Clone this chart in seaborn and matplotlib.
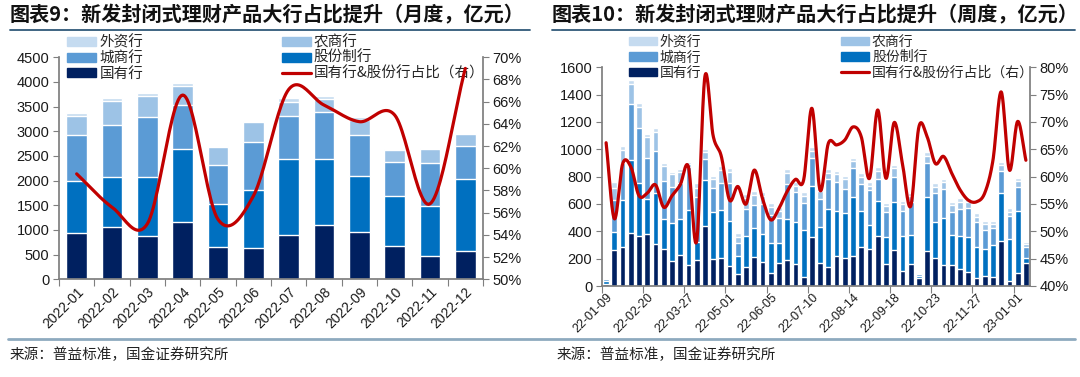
import numpy as np
import matplotlib
matplotlib.use("Agg")
import matplotlib.pyplot as plt
import seaborn as sns
from matplotlib.patches import Patch
from matplotlib.lines import Line2D

# ---- monthly data (亿元) ----
months = ["2022-01", "2022-02", "2022-03", "2022-04", "2022-05", "2022-06",
          "2022-07", "2022-08", "2022-09", "2022-10", "2022-11", "2022-12"]
m_state = [946, 1068, 872, 1156, 656, 642, 906, 1095, 960, 683, 473, 581]
m_joint = [1048, 1001, 1210, 1487, 865, 1170, 1541, 1352, 1136, 1014, 1021, 1447]
m_city = [933, 1068, 1203, 899, 798, 980, 859, 940, 831, 676, 865, 669]
m_rural = [385, 480, 440, 386, 372, 392, 297, 263, 304, 250, 284, 257]
m_foreign = [54, 54, 61, 60, 20, 20, 68, 61, 54, 20, 14, 14]
m_share = [59.5, 56.5, 55.0, 66.6, 55.4, 57.5, 67.1, 65.7, 64.2, 64.8, 56.8, 69.0]

# ---- weekly data (亿元) ----
weeks = ["22-01-09", "22-01-16", "22-01-23", "22-02-06", "22-02-13",
         "22-02-20", "22-02-27", "22-03-06", "22-03-13", "22-03-20",
         "22-03-27", "22-04-03", "22-04-10", "22-04-17", "22-04-24",
         "22-05-01", "22-05-08", "22-05-15", "22-05-22", "22-05-29",
         "22-06-05", "22-06-12", "22-06-19", "22-06-26", "22-07-03",
         "22-07-10", "22-07-17", "22-07-24", "22-07-31", "22-08-07",
         "22-08-14", "22-08-21", "22-08-28", "22-09-04", "22-09-11",
         "22-09-18", "22-09-25", "22-10-02", "22-10-09", "22-10-16",
         "22-10-23", "22-10-30", "22-11-06", "22-11-13", "22-11-20",
         "22-11-27", "22-12-04", "22-12-11", "22-12-18", "22-12-25",
         "23-01-01", "23-01-08"]
w_state = [18, 263, 283, 385, 366, 380, 307, 268, 185, 227,
           154, 190, 439, 198, 202, 149, 90, 141, 214, 178,
           93, 166, 190, 161, 68, 356, 171, 141, 220, 202,
           220, 288, 271, 368, 159, 263, 110, 161, 56, 259,
           207, 154, 154, 124, 105, 56, 76, 68, 332, 37,
           93, 166]
w_joint = [20, 135, 346, 537, 390, 254, 371, 220, 278, 261,
           402, 134, 336, 341, 354, 327, 129, 227, 211, 202,
           224, 151, 298, 305, 342, 378, 263, 420, 329, 335,
           429, 261, 175, 254, 197, 354, 258, 212, 17, 395,
           264, 341, 219, 244, 251, 232, 195, 232, 351, 307,
           458, 36]
w_city = [12, 230, 273, 410, 402, 305, 312, 283, 264, 263,
          317, 330, 152, 180, 200, 280, 98, 193, 170, 220,
          203, 178, 258, 224, 195, 200, 200, 219, 214, 170,
          212, 195, 256, 161, 183, 183, 183, 244, 15, 244,
          207, 215, 171, 195, 212, 178, 139, 122, 161, 171,
          171, 86]
w_rural = [5, 90, 93, 146, 154, 149, 139, 107, 93, 86,
           20, 61, 53, 61, 92, 75, 44, 80, 70, 60,
           60, 55, 78, 43, 55, 55, 60, 49, 56, 73,
           53, 55, 32, 60, 46, 60, 48, 41, 7, 55,
           48, 48, 48, 53, 48, 41, 41, 29, 41, 28,
           46, 17]
w_foreign = [5, 40, 29, 29, 29, 24, 25, 24, 17, 17,
             12, 41, 20, 25, 30, 30, 24, 30, 30, 30,
             30, 30, 30, 30, 30, 26, 26, 25, 25, 25,
             25, 25, 25, 25, 25, 25, 25, 25, 5, 25,
             25, 25, 25, 25, 25, 25, 25, 25, 25, 25,
             25, 15]
w_share = [66.2, 52.3, 62.3, 61.8, 56.5, 57.0, 58.5, 54.4, 56.5, 58.5,
           61.8, 48.2, 78.3, 67.5, 63.7, 55.7, 58.2, 55.0, 61.2, 56.0,
           52.1, 54.2, 57.3, 59.5, 59.4, 72.5, 57.5, 66.1, 65.8, 66.7,
           69.1, 67.3, 59.7, 72.2, 59.7, 69.9, 62.4, 54.6, 69.1, 67.3,
           62.4, 63.7, 60.6, 57.6, 55.7, 55.4, 57.0, 63.0, 75.5, 61.2,
           70.1, 63.0]

names = ["外资行", "农商行", "城商行", "股份制行", "国有行"]
colors = ["#c5dbf0", "#9dc3e6", "#5b9bd5", "#0070c0", "#002060"]
line_color = "#c00000"
line_label = "国有行&股份行占比（右）"

sns.set_theme(style="ticks")
plt.rcParams["font.family"] = ["Liberation Sans", "Noto Sans CJK SC", "DejaVu Sans"]
plt.rcParams["axes.edgecolor"] = "#7f7f7f"
plt.rcParams["xtick.color"] = "#7f7f7f"
plt.rcParams["ytick.color"] = "#7f7f7f"
plt.rcParams["xtick.labelcolor"] = "#1a1a1a"
plt.rcParams["ytick.labelcolor"] = "#1a1a1a"


def smooth(ys, n=24):
    # catmull-rom curve through the points, like excel's smoothed line
    y = np.asarray(ys, float)
    x = np.arange(len(y), dtype=float)
    px = np.concatenate([[2 * x[0] - x[1]], x, [2 * x[-1] - x[-2]]])
    py = np.concatenate([[2 * y[0] - y[1]], y, [2 * y[-1] - y[-2]]])
    t = np.linspace(0, 1, n, endpoint=False)
    xs, ysm = [], []
    for i in range(1, len(px) - 2):
        for p, out in ((px, xs), (py, ysm)):
            p0, p1, p2, p3 = p[i - 1], p[i], p[i + 1], p[i + 2]
            out.extend(0.5 * (2 * p1 + (-p0 + p2) * t
                              + (2 * p0 - 5 * p1 + 4 * p2 - p3) * t ** 2
                              + (-p0 + 3 * p1 - 3 * p2 + p3) * t ** 3))
    xs.append(x[-1])
    ysm.append(y[-1])
    return np.array(xs), np.array(ysm)


def draw_panel(ax, cats, layers, share, width, ylim, yticks, rlim, rticks,
               tick_every, label_size, legend_anchor, colspace, legend_size):
    # stacked bars drawn as cumulative totals, biggest first
    cum = np.zeros(len(cats))
    tops = []
    for vals in reversed(layers):
        cum = cum + np.asarray(vals, float)
        tops.append(cum.copy())
    tops = tops[::-1]  # tops[0] = total (外资 top)
    for top, col in zip(tops, colors):
        sns.barplot(x=cats, y=top, color=col, saturation=1, width=width,
                    ax=ax, order=cats)
    ax.set_ylim(*ylim)
    ax.set_yticks(yticks)
    ax.set_yticklabels([str(v) for v in yticks], fontsize=10.5)
    ax.set_xlim(-0.5, len(cats) - 0.5)
    n = len(cats)
    ax.set_xticks(np.arange(-0.5, n - 0.4, tick_every))
    ax.set_xticklabels([])
    pos = np.arange(0, n, tick_every)
    ax.set_xticks(pos, [cats[i] for i in pos], minor=True, rotation=45,
                  ha="right", rotation_mode="anchor", fontsize=label_size)
    ax.tick_params(axis="x", which="minor", length=0, pad=4)
    ax.tick_params(axis="x", which="major", length=5, width=0.8)
    ax.tick_params(axis="y", length=4, width=0.8, pad=3)
    ax.set_xlabel("")
    ax.set_ylabel("")
    for s in ("top", "right"):
        ax.spines[s].set_visible(False)

    ax2 = ax.twinx()
    sx, sy = smooth(share)
    ax2.plot(sx, sy, color=line_color, lw=2.3, solid_capstyle="round")
    ax2.set_ylim(*rlim)
    ax2.set_yticks(rticks)
    ax2.set_yticklabels([f"{v}%" for v in rticks], fontsize=10.5)
    ax2.tick_params(axis="y", length=4, width=0.8, pad=3)
    for s in ("top", "left", "bottom"):
        ax2.spines[s].set_visible(False)
    ax2.set_xlim(-0.5, len(cats) - 0.5)

    handles = [Patch(color=colors[0]), Patch(color=colors[2]), Patch(color=colors[4]),
               Patch(color=colors[1]), Patch(color=colors[3]),
               Line2D([], [], color=line_color, lw=2.3)]
    labels = [names[0], names[2], names[4], names[1], names[3], line_label]
    ax.legend(handles, labels, ncol=2, loc="upper left", frameon=False,
              bbox_to_anchor=legend_anchor, bbox_transform=ax.figure.transFigure,
              borderpad=0, handlelength=2.0, handleheight=0.55,
              handletextpad=0.2, labelspacing=0.1, columnspacing=colspace,
              prop={"family": ["Noto Sans CJK SC"], "size": legend_size})
    return ax2


fig = plt.figure(figsize=(10.8, 3.77), dpi=100)
W, H = 1080, 377

ax_m = fig.add_axes([59 / W, 1 - 279.3 / H, (483 - 59) / W, (279.3 - 57.3) / H])
draw_panel(ax_m, months, [m_foreign, m_rural, m_city, m_joint, m_state], m_share,
           0.58, (0, 4500), list(range(0, 4501, 500)), (50, 70), list(range(50, 71, 2)),
           1, 10, (60 / W, 1 - 28 / H), 9.5, 10.5)

ax_w = fig.add_axes([602 / W, 1 - 286 / H, (1030 - 602) / W, (286 - 67.3) / H])
draw_panel(ax_w, weeks, [w_foreign, w_rural, w_city, w_joint, w_state], w_share,
           0.7, (0, 1600), list(range(0, 1601, 200)), (40, 80), list(range(40, 81, 5)),
           5, 9, (622 / W, 1 - 28 / H), 10.1, 10)

# titles, rules and sources
title_kw = dict(fontsize=14.5, fontweight="bold", family=["Noto Sans CJK SC"],
                va="center", ha="left", color="#111111")
fig.text(10 / W, 1 - 15 / H, "图表9：新发封闭式理财产品大行占比提升（月度，亿元）", **title_kw)
fig.text(552 / W, 1 - 15 / H, "图表10：新发封闭式理财产品大行占比提升（周度，亿元）", **title_kw)
for x0, x1 in ((10, 530), (552, 1075)):
    fig.add_artist(Line2D([x0 / W, x1 / W], [1 - 30 / H, 1 - 30 / H],
                          transform=fig.transFigure, color="#2f5878", lw=1.3))
fig.add_artist(Line2D([8 / W, 1075 / W], [1 - 339 / H, 1 - 339 / H],
                      transform=fig.transFigure, color="#8eaabf", lw=2.0))
src_kw = dict(fontsize=10.5, family=["Noto Sans CJK SC"], va="center", ha="left",
              color="#222222")
fig.text(10 / W, 1 - 355 / H, "来源：普益标准，国金证券研究所", **src_kw)
fig.text(557 / W, 1 - 355 / H, "来源：普益标准，国金证券研究所", **src_kw)

fig.savefig("out.png", dpi=100)
